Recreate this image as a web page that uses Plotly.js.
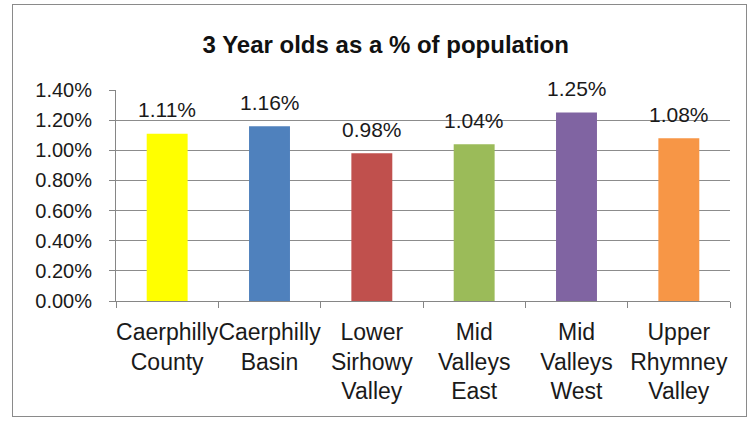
<!DOCTYPE html>
<html><head><meta charset="utf-8">
<script src="https://cdn.plot.ly/plotly-3.0.1.min.js"></script>
<style>
html,body{margin:0;padding:0;background:#fff;}
#wrap{position:relative;width:749px;height:422px;}
#chart{width:749px;height:422px;}
#frame{position:absolute;left:12px;top:4px;width:735px;height:413px;border:1.5px solid #8a8a8a;pointer-events:none;box-sizing:border-box;}
</style>
</head><body>
<div id="wrap"><div id="chart"></div><div id="frame"></div></div>
<script>
var categories = ["Caerphilly County","Caerphilly Basin","Lower Sirhowy Valley","Mid Valleys East","Mid Valleys West","Upper Rhymney Valley"];
var tickLabels = ["Caerphilly<br>County","Caerphilly<br>Basin","Lower<br>Sirhowy<br>Valley","Mid<br>Valleys<br>East","Mid<br>Valleys<br>West","Upper<br>Rhymney<br>Valley"];
var values = [0.0111, 0.0116, 0.0098, 0.0104, 0.0125, 0.0108];
var valueLabels = ["1.11%","1.16%","0.98%","1.04%","1.25%","1.08%"];
var colors = ["#FFFF00","#4F81BD","#C0504D","#9BBB59","#8064A2","#F79646"];
var yTicks = [0,0.002,0.004,0.006,0.008,0.010,0.012,0.014];
var yTickText = ["0.00%","0.20%","0.40%","0.60%","0.80%","1.00%","1.20%","1.40%"];

var FONT = "Liberation Sans, Arial, sans-serif";
var trace = {
  type:"bar", x:categories, y:values,
  marker:{color:colors, line:{width:0}},
  width:0.4, hoverinfo:"none"
};
var annotations = categories.map(function(c,i){
  return {x:c, y:values[i], xref:"x", yref:"y", text:valueLabels[i], showarrow:false,
    yanchor:"middle", yshift:24, font:{family:FONT, size:21, color:"#1a1a1a"}};
});
var layout = {
  width:749, height:422,
  margin:{l:116, r:19, t:90, b:121, pad:0},
  paper_bgcolor:"#fff", plot_bgcolor:"#fff",
  showlegend:false,
  title:{text:"<b>3 Year olds as a % of population</b>", x:0.515, xanchor:"center", y:0.895, yanchor:"middle",
    font:{family:FONT, size:24, color:"#111"}},
  xaxis:{type:"category", categoryarray:categories, tickvals:categories, ticktext:tickLabels,
    showline:true, linecolor:"#868686", linewidth:1,
    ticks:"outside", tickson:"boundaries", ticklen:6, tickcolor:"#868686",
    showgrid:false, tickfont:{family:FONT, size:23, color:"#1a1a1a"}, tickangle:0, ticklabelstandoff:10},
  yaxis:{range:[0,0.014], tickvals:yTicks, ticktext:yTickText,
    showline:true, linecolor:"#868686", linewidth:1,
    ticks:"outside", ticklen:6, tickcolor:"#868686",
    showgrid:true, gridcolor:"#8c8c8c", gridwidth:1, zeroline:false,
    tickfont:{family:FONT, size:20, color:"#1a1a1a"}, ticklabelstandoff:13},
  annotations:annotations,
  bargap:0.6
};
Plotly.newPlot("chart",[trace],layout,{displayModeBar:false, staticPlot:true});
</script>
</body></html>
